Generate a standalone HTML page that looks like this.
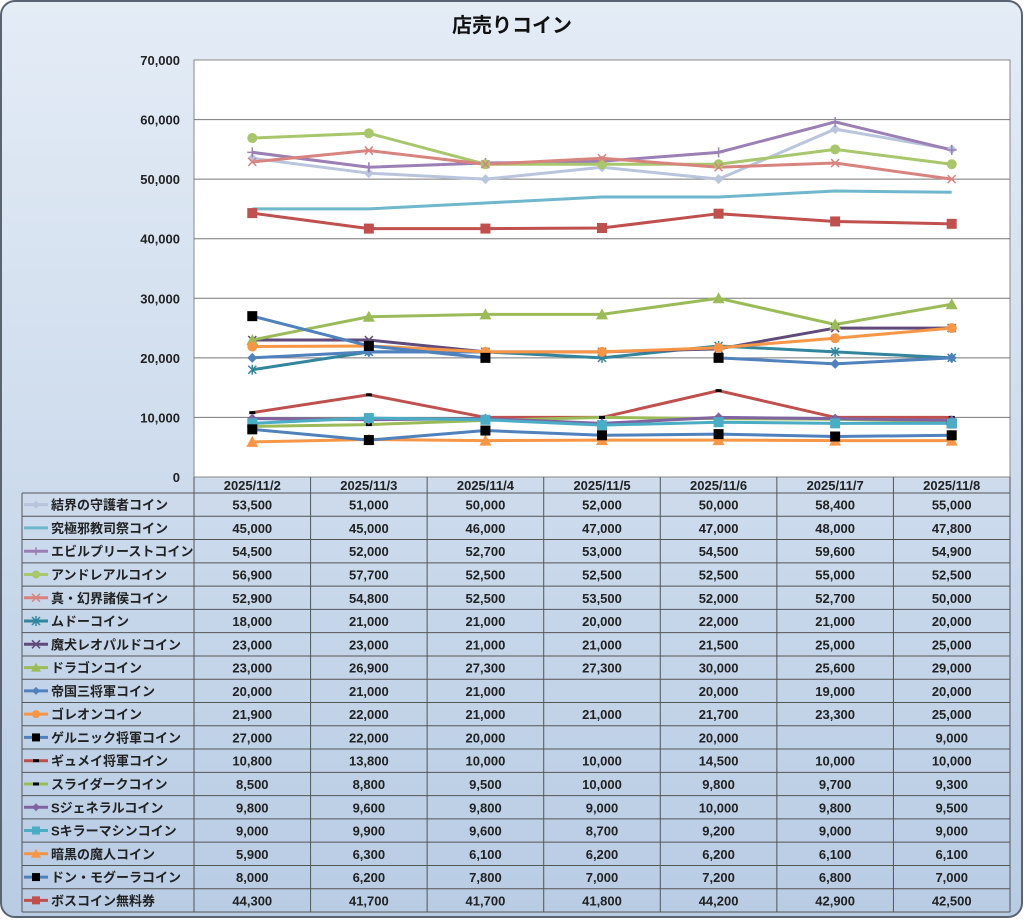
<!DOCTYPE html>
<html><head><meta charset="utf-8">
<style>
html,body{margin:0;padding:0;background:#fff;}
body{width:1024px;height:919px;overflow:hidden;}
svg text{font-family:"Liberation Sans","Noto Sans CJK JP",sans-serif;}
</style></head>
<body>
<svg id="s" width="1024" height="919" xmlns="http://www.w3.org/2000/svg">
<defs>
<linearGradient id="bg" x1="0" y1="0" x2="0" y2="1">
<stop offset="0" stop-color="#e4ecf6"/><stop offset="1" stop-color="#b8cce4"/>
</linearGradient>
</defs>
<rect x="1" y="1" width="1021" height="916" rx="14" fill="url(#bg)" stroke="#5a6470" stroke-width="2"/>
<text x="512" y="32" text-anchor="middle" font-size="20" font-weight="bold" fill="#111">店売りコイン</text>
<rect x="194" y="60" width="816" height="417" fill="#fff" stroke="#888" stroke-width="1"/>
<g id="g"></g>
</svg>
<script>
var s=document.getElementById('g'),h='';
var X0=194,CW=816/7,Y0=477;
function Y(v){return Y0-v/70000*417;}
for(var i=0;i<=7;i++){var v=i*10000,y=Y(v);
 if(i>0&&i<7)h+='<line x1="194" x2="1010" y1="'+y+'" y2="'+y+'" stroke="#777" stroke-width="1"/>';
 h+='<text x="180" y="'+(y+5)+'" text-anchor="end" font-size="13" font-weight="bold" fill="#222">'+(v?v.toLocaleString('en-US'):'0')+'</text>';}
var dates=['2025/11/2','2025/11/3','2025/11/4','2025/11/5','2025/11/6','2025/11/7','2025/11/8'];
var S=[
['結界の守護者コイン','#b9c4dd','diamond',[53500,51000,50000,52000,50000,58400,55000]],
['究極邪教司祭コイン','#6fb7cc','none',[45000,45000,46000,47000,47000,48000,47800]],
['エビルプリーストコイン','#9b7fb5','plus',[54500,52000,52700,53000,54500,59600,54900]],
['アンドレアルコイン','#a8c66c','circle',[56900,57700,52500,52500,52500,55000,52500]],
['真・幻界諸侯コイン','#d9837f','x',[52900,54800,52500,53500,52000,52700,50000]],
['ムドーコイン','#31859c','star',[18000,21000,21000,20000,22000,21000,20000]],
['魔犬レオパルドコイン','#604a7b','x',[23000,23000,21000,21000,21500,25000,25000]],
['ドラゴンコイン','#9bbb59','tri',[23000,26900,27300,27300,30000,25600,29000]],
['帝国三将軍コイン','#4f81bd','diamond',[20000,21000,21000,null,20000,19000,20000]],
['ゴレオンコイン','#f79646','circle',[21900,22000,21000,21000,21700,23300,25000]],
['ゲルニック将軍コイン','#4f81bd','bsq',[27000,22000,20000,null,20000,null,9000]],
['ギュメイ将軍コイン','#c0504d','dash',[10800,13800,10000,10000,14500,10000,10000]],
['スライダークコイン','#9bbb59','dash',[8500,8800,9500,10000,9800,9700,9300]],
['Sジェネラルコイン','#8064a2','diamond',[9800,9600,9800,9000,10000,9800,9500]],
['Sキラーマシンコイン','#4bacc6','sq',[9000,9900,9600,8700,9200,9000,9000]],
['暗黒の魔人コイン','#f79646','tri',[5900,6300,6100,6200,6200,6100,6100]],
['ドン・モグーラコイン','#4f81bd','bsq',[8000,6200,7800,7000,7200,6800,7000]],
['ボスコイン無料券','#c0504d','sq',[44300,41700,41700,41800,44200,42900,42500]]];
function mk(t,c,x,y,sz){sz=sz||5;
 switch(t){
 case 'diamond':return '<path d="M'+x+' '+(y-sz)+'L'+(x+sz)+' '+y+'L'+x+' '+(y+sz)+'L'+(x-sz)+' '+y+'Z" fill="'+c+'"/>';
 case 'circle':return '<circle cx="'+x+'" cy="'+y+'" r="'+sz+'" fill="'+c+'"/>';
 case 'sq':return '<rect x="'+(x-sz)+'" y="'+(y-sz)+'" width="'+2*sz+'" height="'+2*sz+'" fill="'+c+'"/>';
 case 'bsq':return '<rect x="'+(x-sz)+'" y="'+(y-sz)+'" width="'+2*sz+'" height="'+2*sz+'" fill="#000"/>';
 case 'tri':return '<path d="M'+x+' '+(y-sz-1)+'L'+(x+sz+1)+' '+(y+sz)+'L'+(x-sz-1)+' '+(y+sz)+'Z" fill="'+c+'"/>';
 case 'dash':return '<rect x="'+(x-3)+'" y="'+(y-1.5)+'" width="6" height="3" fill="#000"/>';
 case 'plus':return '<path d="M'+(x-sz)+' '+y+'H'+(x+sz)+'M'+x+' '+(y-sz)+'V'+(y+sz)+'" stroke="'+c+'" stroke-width="1.5"/>';
 case 'x':return '<path d="M'+(x-4)+' '+(y-4)+'L'+(x+4)+' '+(y+4)+'M'+(x+4)+' '+(y-4)+'L'+(x-4)+' '+(y+4)+'" stroke="'+c+'" stroke-width="1.5"/>';
 case 'star':return '<path d="M'+(x-4)+' '+(y-4)+'L'+(x+4)+' '+(y+4)+'M'+(x+4)+' '+(y-4)+'L'+(x-4)+' '+(y+4)+'M'+x+' '+(y-5)+'V'+(y+5)+'" stroke="'+c+'" stroke-width="1.5"/>';
 }return '';}
var lines='',marks='';
S.forEach(function(r){var segs=[[]],all=[];r[3].forEach(function(v,i){if(v==null){segs.push([]);return;}var q=[X0+CW*(i+0.5),Y(v)];segs[segs.length-1].push(q);all.push(q);});
 segs.forEach(function(p){if(p.length>1)lines+='<polyline points="'+p.map(function(q){return q.join(',')}).join(' ')+'" fill="none" stroke="'+r[1]+'" stroke-width="3"/>';});
 if(r[2]!='none')all.forEach(function(q){marks+=mk(r[2],r[1],q[0],q[1]);});});
h+=lines+marks;
var RH=(912-493)/18;
h+='<line x1="194" x2="1010" y1="493" y2="493" stroke="#555"/>';
for(var i=0;i<=7;i++){var x=X0+CW*i;h+='<line x1="'+x+'" x2="'+x+'" y1="477" y2="912" stroke="#555"/>';}
dates.forEach(function(d,i){h+='<text x="'+(X0+CW*(i+0.5))+'" y="490" text-anchor="middle" font-size="13" font-weight="bold" fill="#222">'+d+'</text>';});
h+='<line x1="22" x2="22" y1="493" y2="912" stroke="#555"/>';
S.forEach(function(r,k){var y=493+RH*k,cy=y+RH/2;
 h+='<line x1="22" x2="1010" y1="'+(y+RH)+'" y2="'+(y+RH)+'" stroke="#555"/>';
 if(k==0)h+='<line x1="22" x2="194" y1="493" y2="493" stroke="#555"/>';
 h+='<line x1="24" x2="48" y1="'+cy+'" y2="'+cy+'" stroke="'+r[1]+'" stroke-width="3"/>';
 if(r[2]!='none')h+=mk(r[2],r[1],36,cy,4);
 h+='<text x="51" y="'+(cy+5)+'" font-size="13" font-weight="bold" fill="#222">'+r[0]+'</text>';
 r[3].forEach(function(v,i){if(v!=null)h+='<text x="'+(X0+CW*(i+0.5))+'" y="'+(cy+5)+'" text-anchor="middle" font-size="13" font-weight="bold" fill="#222">'+v.toLocaleString('en-US')+'</text>';});
});
s.innerHTML=h;
</script>
</body></html>
